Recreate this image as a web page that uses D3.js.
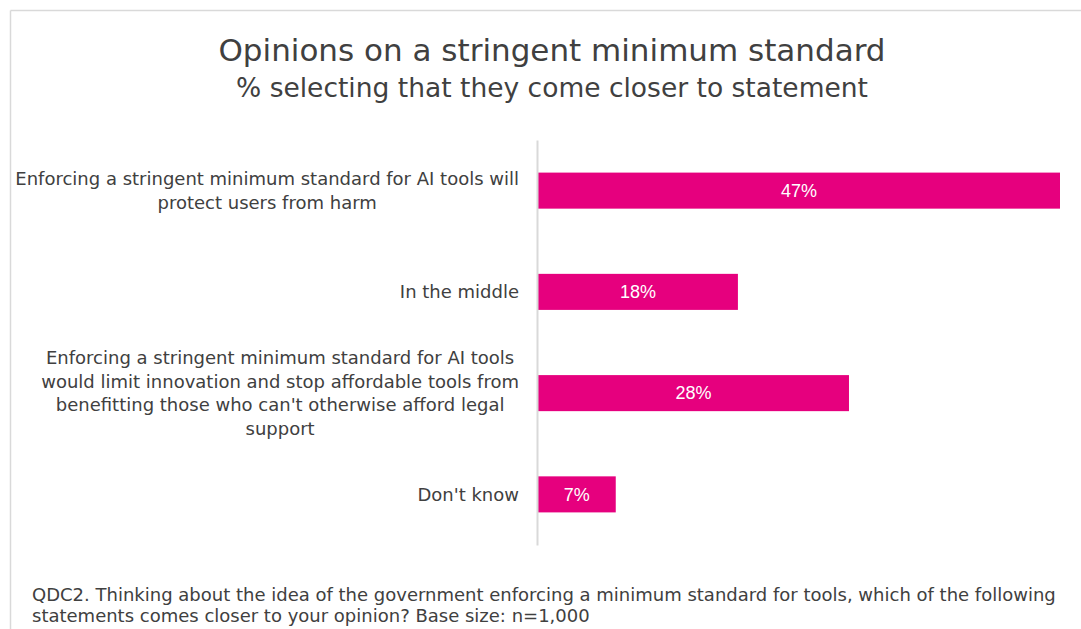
<!DOCTYPE html>
<html>
<head>
<meta charset="utf-8">
<script src="https://cdn.jsdelivr.net/npm/d3@7"></script>
<style>
  html, body { margin: 0; padding: 0; background: #fff; }
  svg { display: block; }
</style>
</head>
<body>
<svg id="chart" width="1081" height="629"></svg>
<script>
// Survey answers, each statement broken into its display lines
const categories = [
  ["Enforcing a stringent minimum standard for AI tools will", "protect users from harm"],
  ["In the middle"],
  ["Enforcing a stringent minimum standard for AI tools",
   "would limit innovation and stop affordable tools from",
   "benefitting those who can't otherwise afford legal",
   "support"],
  ["Don't know"]
];
const values = [47, 18, 28, 7];
const valueLabels = ["47%", "18%", "28%", "7%"];

const titleText = "Opinions on a stringent minimum standard";
const subtitleText = "% selecting that they come closer to statement";
const footnoteLines = [
  "QDC2. Thinking about the idea of the government enforcing a minimum standard for tools, which of the following",
  "statements comes closer to your opinion? Base size: n=1,000"
];

const textFont = "'DejaVu Sans', Verdana, sans-serif";
const textColor = "#404040";
const barColor = "#E6007E";

const svg = d3.select("#chart");

// frame lines on the top and left edges
svg.append("line").attr("x1", 10.5).attr("x2", 1081).attr("y1", 10.5).attr("y2", 10.5)
  .attr("stroke", "#d9d9d9").attr("stroke-width", 1.5);
svg.append("line").attr("x1", 10.5).attr("x2", 10.5).attr("y1", 10.5).attr("y2", 629)
  .attr("stroke", "#d9d9d9").attr("stroke-width", 1.5);

// titles
svg.append("text").attr("x", 552).attr("y", 61)
  .attr("text-anchor", "middle")
  .style("font-family", textFont).style("font-size", "31px").style("fill", textColor)
  .text(titleText);
svg.append("text").attr("x", 552).attr("y", 97)
  .attr("text-anchor", "middle")
  .style("font-family", textFont).style("font-size", "26.5px").style("fill", textColor)
  .text(subtitleText);

// scales
const x = d3.scaleLinear().domain([0, 47]).range([538, 1060]);
const y = d3.scaleBand()
  .domain(d3.range(categories.length))
  .range([140, 545])
  .paddingInner(0.644)
  .paddingOuter(0.322);

// bars
svg.append("g").selectAll("rect")
  .data(values)
  .join("rect")
  .attr("x", x(0))
  .attr("y", (d, i) => y(i))
  .attr("width", d => x(d) - x(0))
  .attr("height", y.bandwidth())
  .attr("fill", barColor);

// value labels inside bars
svg.append("g").selectAll("text")
  .data(values)
  .join("text")
  .attr("x", d => (x(0) + x(d)) / 2)
  .attr("y", (d, i) => y(i) + y.bandwidth() / 2)
  .attr("dy", "0.35em")
  .attr("text-anchor", "middle")
  .style("font-family", "'Liberation Sans', Arial, sans-serif")
  .style("font-size", "18px")
  .style("fill", "#fff")
  .text((d, i) => valueLabels[i]);

// vertical baseline axis
const yAxis = d3.axisLeft(y).tickSize(0).tickFormat("");
const axisG = svg.append("g").attr("transform", `translate(${x(0) - 1},0)`).call(yAxis);
axisG.select(".domain").attr("stroke", "#d9d9d9").attr("stroke-width", 2);

// category labels: lines centred within a block whose right edge sits left of the axis
const labelRight = 519;
const lineHeight = 23.5;
const labelG = svg.append("g");
categories.forEach((lines, i) => {
  const g = labelG.append("g");
  const cy = y(i) + y.bandwidth() / 2;
  const texts = lines.map((ln, k) =>
    g.append("text")
      .attr("y", cy + (k - (lines.length - 1) / 2) * lineHeight)
      .attr("dy", "0.35em")
      .attr("text-anchor", "middle")
      .style("font-family", textFont).style("font-size", "18px").style("fill", textColor)
      .text(ln)
  );
  const maxW = d3.max(texts, t => t.node().getComputedTextLength());
  texts.forEach(t => t.attr("x", labelRight - maxW / 2));
});

// footnote
svg.append("g").selectAll("text")
  .data(footnoteLines)
  .join("text")
  .attr("x", 32)
  .attr("y", (d, i) => 601 + i * 21)
  .style("font-family", textFont).style("font-size", "18px").style("fill", textColor)
  .text(d => d);
</script>
</body>
</html>
